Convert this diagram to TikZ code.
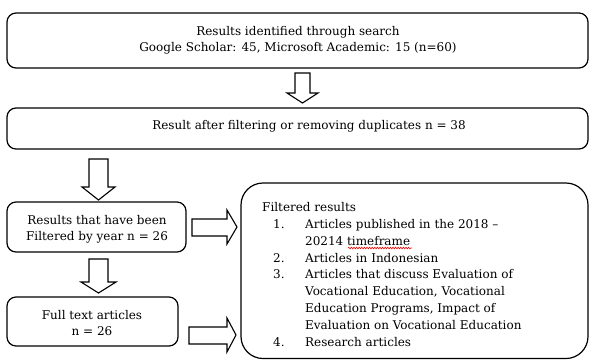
\documentclass[tikz,border=0pt]{standalone}
\usepackage{fontspec}
\setmainfont{DejaVu Serif}
\usetikzlibrary{decorations.pathmorphing}
\newcommand{\tf}{\fontsize{12}{16.4}\selectfont}
\newcommand{\lf}{\fontsize{12}{16.85}\selectfont}
\begin{document}
\begin{tikzpicture}[x=1pt,y=-1pt,
  box/.style={draw=black, line width=1.2pt, rounded corners=9pt},
  blk/.style={draw=black, line width=1.1pt, fill=white, line join=miter},
  txt/.style={font=\tf, align=center, inner sep=0pt}]
\useasboundingbox (0,0) rectangle (589,360);
% boxes
\draw[box] (7,13) rectangle (588,68);
\node[txt] (t1) at (298,40.5) {Results identified through search\\Google Scholar: 45, Microsoft Academic: 15 (n=60)};
\draw[box] (7,108) rectangle (588,149);
\node[txt] (t2) at (309,126.5) {Result after filtering or removing duplicates n = 38};
\draw[box] (7,202) rectangle (186,252);
\node[txt] (t3) at (97,229) {Results that have been\\Filtered by year n = 26};
\draw[box] (7,297) rectangle (178,346);
\node[txt] (t4) at (92,323) {Full text articles\\n = 26};
\draw[draw=black, line width=1.2pt, rounded corners=22pt] (241,183) rectangle (588,358.5);
\node[font=\lf, inner sep=0pt, anchor=north west] (list) at (262,199.5) {%
\begin{tabular}{@{}p{43pt}@{}l@{}}
\multicolumn{2}{@{}l@{}}{Filtered results}\\
\hspace{11pt}1. & Articles published in the 2018 --\\
 & 20214 timeframe\\
\hspace{11pt}2. & Articles in Indonesian\\
\hspace{11pt}3. & Articles that discuss Evaluation of\\
 & Vocational Education, Vocational\\
 & Education Programs, Impact of\\
 & Evaluation on Vocational Education\\
\hspace{11pt}4. & Research articles
\end{tabular}};
% spell-check squiggle under "timeframe"
\draw[red, line width=0.6pt, decorate, decoration={snake, amplitude=0.8pt, segment length=2.6pt}] (348,248) -- (412,248);
% block arrows
\draw[blk] (295,73) -- (310,73) -- (310,93) -- (318,93) -- (302.5,103) -- (287,93) -- (295,93) -- cycle;
\draw[blk] (89,159) -- (108,159) -- (108,187) -- (115,187) -- (98.5,200) -- (82,187) -- (89,187) -- cycle;
\draw[blk] (89,259) -- (108,259) -- (108,282) -- (116,282) -- (98.5,293) -- (81,282) -- (89,282) -- cycle;
\draw[blk] (192,219) -- (227,219) -- (227,210) -- (237,227) -- (227,244) -- (227,236) -- (192,236) -- cycle;
\draw[blk] (189,327) -- (227,327) -- (227,318) -- (236,335) -- (227,352) -- (227,344) -- (189,344) -- cycle;
\end{tikzpicture}
\end{document}
